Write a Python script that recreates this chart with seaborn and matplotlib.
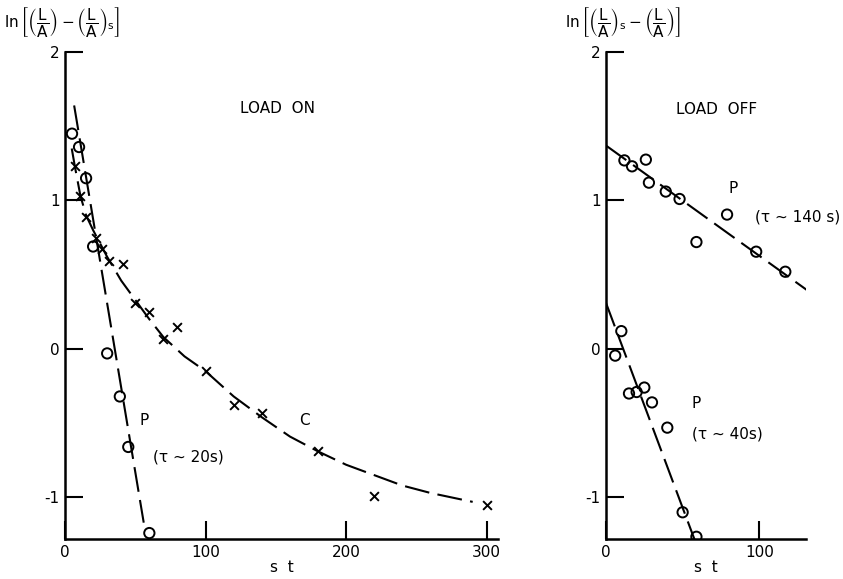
import matplotlib
matplotlib.use('Agg')
import matplotlib.pyplot as plt
import numpy as np
import seaborn as sns

# Данные: левая панель (LOAD ON).
p_on_t = [5, 10, 15, 20, 30, 39, 45, 60]
p_on_y = [1.45, 1.36, 1.15, 0.69, -0.03, -0.32, -0.66, -1.24]
c_on_t = [7, 11, 15, 22, 26, 31, 41, 50, 60, 70, 80, 100, 120, 140, 180, 220, 300]
c_on_y = [1.23, 1.03, 0.89, 0.75, 0.67, 0.59, 0.57, 0.31, 0.25, 0.07, 0.15,
          -0.15, -0.38, -0.43, -0.69, -0.99, -1.05]
# Прямая P (tau ~ 20 s) и кривая C.
p_on_fit_t = [6.5, 56]
p_on_fit_y = [1.64, -1.17]
c_fit_t = [4.8, 7, 11, 15, 20, 25, 30, 40, 50, 60, 70, 85, 100, 120, 140,
           160, 180, 200, 220, 240, 260, 290]
c_fit_y = [1.35, 1.23, 1.03, 0.9, 0.8, 0.71, 0.62, 0.46, 0.33, 0.2, 0.08,
           -0.05, -0.15, -0.32, -0.46, -0.59, -0.69, -0.78, -0.85, -0.92,
           -0.97, -1.03]

# Данные: правая панель (LOAD OFF).
p_off1_t = [12, 17, 26, 28, 39, 48, 59, 79, 98, 117]
p_off1_y = [1.27, 1.23, 1.275, 1.12, 1.06, 1.01, 0.72, 0.905, 0.655, 0.52]
p_off1_fit_t = [0, 132]
p_off1_fit_y = [1.37, 0.39]
p_off2_t = [6, 10, 15, 20, 25, 30, 40, 50, 59]
p_off2_y = [-0.045, 0.12, -0.30, -0.29, -0.26, -0.36, -0.53, -1.10, -1.265]
p_off2_fit_t = [0, 58]
p_off2_fit_y = [0.31, -1.29]

y_ticks = [-1, 0, 1, 2]

sns.set_style('ticks')
plt.rcParams['font.family'] = ['DejaVu Sans']
plt.rcParams['mathtext.fontset'] = 'dejavusans'
plt.rcParams['text.color'] = 'black'
plt.rcParams['xtick.color'] = 'black'
plt.rcParams['ytick.color'] = 'black'
plt.rcParams['axes.labelcolor'] = 'black'

fig = plt.figure(figsize=(8.43, 5.79), dpi=100)
ax1 = fig.add_axes([65 / 843, 40 / 579, 433 / 843, 487 / 579])
ax2 = fig.add_axes([606 / 843, 40 / 579, 200 / 843, 487 / 579])

dash = (0, (12, 4))
lw = 1.5

# Левая панель.
sns.lineplot(x=p_on_fit_t, y=p_on_fit_y, ax=ax1, color='black', lw=lw, linestyle=dash)
sns.lineplot(x=c_fit_t, y=c_fit_y, ax=ax1, color='black', lw=lw, linestyle=dash)
sns.scatterplot(x=p_on_t, y=p_on_y, ax=ax1, marker='o', s=55,
                fc='none', ec='black', linewidth=1.4, zorder=3)
sns.scatterplot(x=c_on_t, y=c_on_y, ax=ax1, marker='x', s=40,
                color='black', linewidth=1.4, zorder=3)
ax1.set_xlim(0, 308)
ax1.set_xticks([0, 100, 200, 300])
ax1.text(151, 1.62, 'LOAD  ON', ha='center', va='center', fontsize=11)
ax1.text(56, -0.48, 'P', ha='center', va='center', fontsize=11)
ax1.text(88, -0.73, '(τ ~ 20s)', ha='center', va='center', fontsize=11)
ax1.text(170, -0.48, 'C', ha='center', va='center', fontsize=11)

# Правая панель.
sns.lineplot(x=p_off1_fit_t, y=p_off1_fit_y, ax=ax2, color='black', lw=lw, linestyle=dash)
sns.lineplot(x=p_off2_fit_t, y=p_off2_fit_y, ax=ax2, color='black', lw=lw, linestyle=dash)
for tt, yy in ((p_off1_t, p_off1_y), (p_off2_t, p_off2_y)):
    sns.scatterplot(x=tt, y=yy, ax=ax2, marker='o', s=55,
                    fc='none', ec='black', linewidth=1.4, zorder=3)
ax2.set_xlim(0, 130.5)
ax2.set_xticks([0, 100])
ax2.text(72, 1.61, 'LOAD  OFF', ha='center', va='center', fontsize=11)
ax2.text(83, 1.08, 'P', ha='center', va='center', fontsize=11)
ax2.text(125, 0.89, '(τ ~ 140 s)', ha='center', va='center', fontsize=11)
ax2.text(59, -0.37, 'P', ha='center', va='center', fontsize=11)
ax2.text(79, -0.57, '(τ ~ 40s)', ha='center', va='center', fontsize=11)

for ax in (ax1, ax2):
    ax.set_ylim(-1.28, 2)
    ax.set_yticks(y_ticks)
    ax.set_yticklabels([str(v) for v in y_ticks])
    ax.set_xlabel('s  t', fontsize=11, labelpad=0)
    ax.set_ylabel('')
    ax.tick_params(direction='in', length=13, width=1.5, labelsize=11, pad=4)
    for s in 'top', 'right':
        ax.spines[s].set_visible(False)
    for s in 'left', 'bottom':
        ax.spines[s].set_linewidth(1.8)
        ax.spines[s].set_color('black')
    ax.patch.set_visible(False)

# Подписи осей y (над осями, как в оригинале).
fig.text(4 / 843, 1 - 22 / 579,
         r'$\ln\left[\left(\dfrac{\mathrm{L}}{\mathrm{A}}\right)-'
         r'\left(\dfrac{\mathrm{L}}{\mathrm{A}}\right)_\mathrm{s}\right]$',
         ha='left', va='center', fontsize=11)
fig.text(565 / 843, 1 - 22 / 579,
         r'$\ln\left[\left(\dfrac{\mathrm{L}}{\mathrm{A}}\right)_\mathrm{s}-'
         r'\left(\dfrac{\mathrm{L}}{\mathrm{A}}\right)\right]$',
         ha='left', va='center', fontsize=11)

fig.savefig('out.png', dpi=100)
